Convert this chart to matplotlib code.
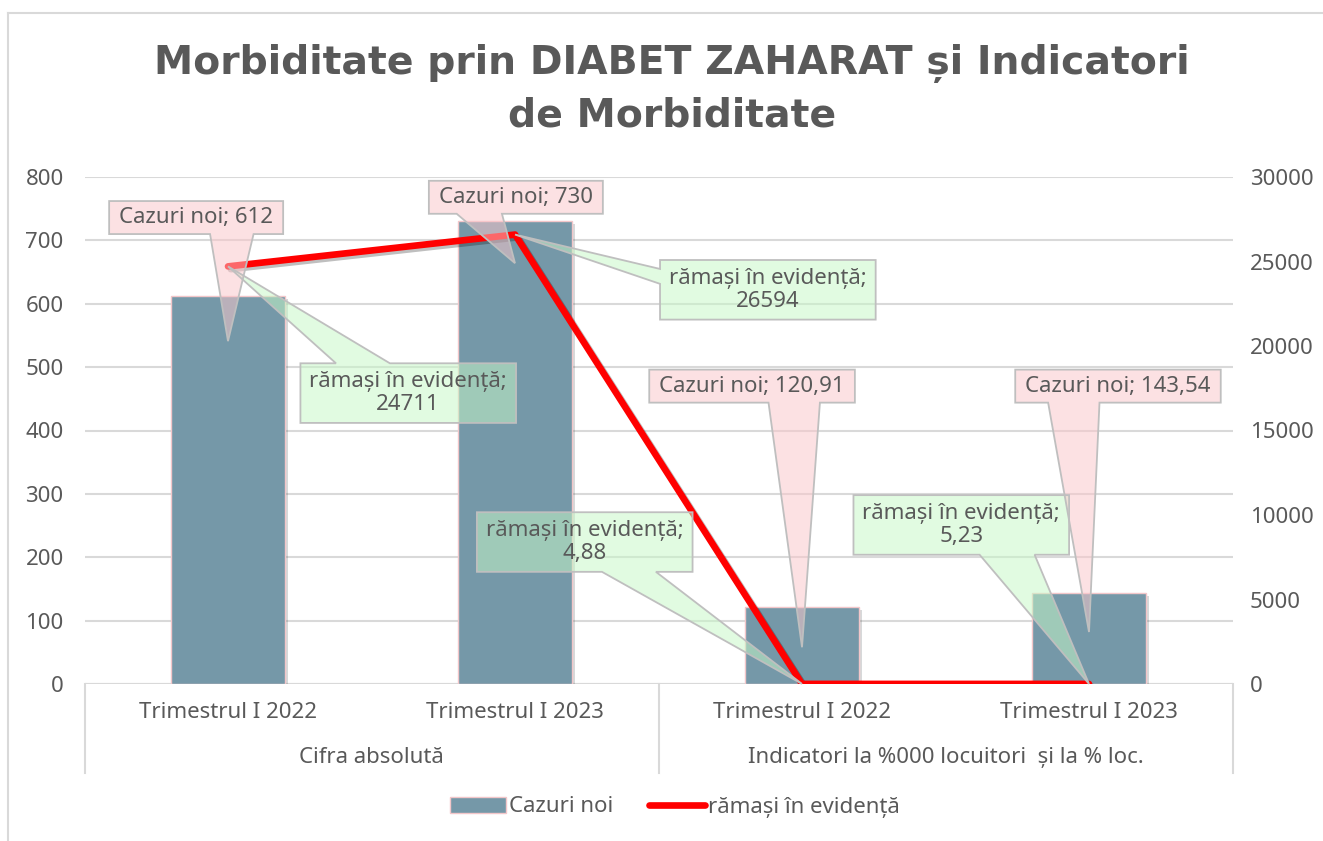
import matplotlib
matplotlib.use("Agg")
import matplotlib.pyplot as plt
from matplotlib.patches import Polygon, Rectangle
from matplotlib.lines import Line2D
from matplotlib.transforms import IdentityTransform
import matplotlib.patheffects as pe

# ---------------- data ----------------
categories = ["Trimestrul I 2022", "Trimestrul I 2023", "Trimestrul I 2022", "Trimestrul I 2023"]
groups = ["Cifra absolută", "Indicatori la %000 locuitori  și la % loc."]
cazuri_noi = [612, 730, 120.91, 143.54]
ramasi = [24711, 26594, 4.88, 5.23]
series_names = ["Cazuri noi", "rămași în evidență"]
title = "Morbiditate prin DIABET ZAHARAT și Indicatori\nde Morbiditate"
left_ticks = [0, 100, 200, 300, 400, 500, 600, 700, 800]
right_ticks = [0, 5000, 10000, 15000, 20000, 25000, 30000]

# ---------------- style ----------------
W, H = 1323, 841
TXT = "#595959"
BAR = "#7598A8"
GRID = "#D9D9D9"
PINK = "#FBC7CB"
GREEN = "#C7F9C7"
EDGE = "#BFBFBF"
FONT = ["Noto Sans", "DejaVu Sans"]
FS = 16

def fmt(v):
    return ("%g" % v).replace(".", ",")

fig = plt.figure(figsize=(W / 100, H / 100), dpi=100)
fig.patch.set_facecolor("white")

# outer border (top + left visible)
fig.add_artist(Line2D([8 / W, 8 / W], [0, 1 - 13 / H], color="#D9D9D9", lw=1.5))
fig.add_artist(Line2D([8 / W, 1], [1 - 13 / H, 1 - 13 / H], color="#D9D9D9", lw=1.5))

ax_l, ax_r, ax_b, ax_t = 84.5, 1232.5, 684, 177
ax = fig.add_axes([ax_l / W, 1 - ax_b / H, (ax_r - ax_l) / W, (ax_b - ax_t) / H])
ax2 = ax.twinx()

x = list(range(len(categories)))
ax.set_xlim(-0.5, len(categories) - 0.5)
ax.set_ylim(0, 800)
ax2.set_ylim(0, 30000)

for a in (ax, ax2):
    for s in a.spines.values():
        s.set_visible(False)
    a.set_facecolor("none")

ax.set_yticks(left_ticks)
ax2.set_yticks(right_ticks)
ax.yaxis.grid(True, color=GRID, lw=1.5)
ax.set_axisbelow(True)
ax.tick_params(axis="y", length=0, pad=15, labelsize=FS, labelcolor=TXT)
ax2.tick_params(axis="y", length=0, pad=12.5, labelsize=FS, labelcolor=TXT)
for lab in ax.get_yticklabels() + ax2.get_yticklabels():
    lab.set_fontfamily(FONT)
ax.set_xticks([])

# bars
bars = ax.bar(x, cazuri_noi, width=0.4, color=BAR, edgecolor="#F2C6C9", lw=1, zorder=2)
for b in bars:
    b.set_path_effects([pe.SimplePatchShadow(offset=(2, -2), alpha=0.18), pe.Normal()])

# line on secondary axis
ax2.plot(x, ramasi, color="#FF0000", lw=4.8, solid_capstyle="round", solid_joinstyle="round",
         zorder=3, path_effects=[pe.SimpleLineShadow(offset=(2, -2), alpha=0.25), pe.Normal()])

# category axis
ax.axhline(0, color=GRID, lw=1.5, zorder=1)
for xs in (ax_l, (ax_l + ax_r) / 2, ax_r):
    fig.add_artist(Line2D([xs / W, xs / W], [1 - ax_b / H, 1 - 773 / H], color=GRID, lw=1.5))
for xi, c in zip(x, categories):
    ax.text(xi, -0.057, c, transform=ax.get_xaxis_transform(), ha="center", va="center",
            fontsize=FS, color=TXT, family=FONT)
for gi, g in enumerate(groups):
    ax.text(0.5 + 2 * gi, -0.144, g, transform=ax.get_xaxis_transform(), ha="center", va="center",
            fontsize=FS, color=TXT, family=FONT)

# title
fig.text(672 / W, 1 - 89 / H, title, ha="center", va="center", fontsize=28.4, fontweight="bold",
         color=TXT, family="DejaVu Sans", linespacing=1.45)

# legend
h1 = Rectangle((0, 0), 1, 1, facecolor=BAR, edgecolor="#F2C6C9")
h2 = Line2D([0], [0], color="#FF0000", lw=4.8, solid_capstyle="round")
leg = fig.legend([h1, h2], series_names, loc="center", bbox_to_anchor=(675 / W, 1 - 807 / H),
                 ncol=2, frameon=False, handlelength=2.5, handletextpad=0.15,
                 columnspacing=1.6, labelcolor=TXT, prop={"family": FONT, "size": FS})

# ---------------- callouts ----------------
fig.canvas.draw()
renderer = fig.canvas.get_renderer()

def callout(txt, cx, cy, tip, face, side, f0, f1, padx=9, pady=5):
    t = ax2.text(cx, cy, txt, ha="center", va="center", fontsize=FS, color=TXT, family=FONT,
                 zorder=20, linespacing=1.1, multialignment="center", transform=ax.transData)
    bb = t.get_window_extent(renderer)
    x0, x1 = bb.x0 - padx, bb.x1 + padx
    y0, y1 = bb.y0 - pady, bb.y1 + pady
    tx, ty = tip
    if side == "bottom":
        b1, b2 = x0 + f0 * (x1 - x0), x0 + f1 * (x1 - x0)
        pts = [(x0, y0), (b1, y0), (tx, ty), (b2, y0), (x1, y0), (x1, y1), (x0, y1)]
    elif side == "top":
        b1, b2 = x0 + f0 * (x1 - x0), x0 + f1 * (x1 - x0)
        pts = [(x0, y0), (x1, y0), (x1, y1), (b2, y1), (tx, ty), (b1, y1), (x0, y1)]
    else:  # left, fractions from top
        b1, b2 = y1 - f0 * (y1 - y0), y1 - f1 * (y1 - y0)
        pts = [(x0, y0), (x1, y0), (x1, y1), (x0, y1), (x0, b1), (tx, ty), (x0, b2)]
    fill = Polygon(pts, closed=True, transform=IdentityTransform(), facecolor=face,
                   edgecolor="none", alpha=0.52, zorder=10, clip_on=False)
    edge = Polygon(pts, closed=True, transform=IdentityTransform(), facecolor="none",
                   edgecolor=EDGE, lw=1.3, zorder=11, clip_on=False)
    ax2.add_artist(fill)
    ax2.add_artist(edge)

def pt_left(xv, yv):
    return ax.transData.transform((xv, yv))

def pt_right(xv, yv):
    return ax2.transData.transform((xv, yv))

# green callouts (rămași)
green_pos = [(0.628, 459), (1.881, 622), (1.243, 224), (2.555, 251)]
green_side = ["top", "left", "bottom", "bottom"]
green_wedge = [(0.165, 0.415), (0.15, 0.40), (0.58, 0.83), (0.585, 0.84)]
for i in range(4):
    callout("%s;\n%s" % (series_names[1], fmt(ramasi[i])), green_pos[i][0], green_pos[i][1],
            pt_right(x[i], ramasi[i]), GREEN, green_side[i], *green_wedge[i], padx=9, pady=8)

# pink callouts (Cazuri noi)
pink_pos = [(-0.111, 736), (1.003, 768), (1.826, 470), (3.101, 470)]
pink_tip = [541, 664, 58, 82]
pink_wedge = [(0.58, 0.83), (0.16, 0.42), (0.58, 0.83), (0.16, 0.41)]
for i in range(4):
    callout("%s; %s" % (series_names[0], fmt(cazuri_noi[i])), pink_pos[i][0], pink_pos[i][1],
            pt_left(x[i], pink_tip[i]), PINK, "bottom", *pink_wedge[i], padx=10, pady=6)

fig.savefig("out.png", dpi=100, facecolor="white")
